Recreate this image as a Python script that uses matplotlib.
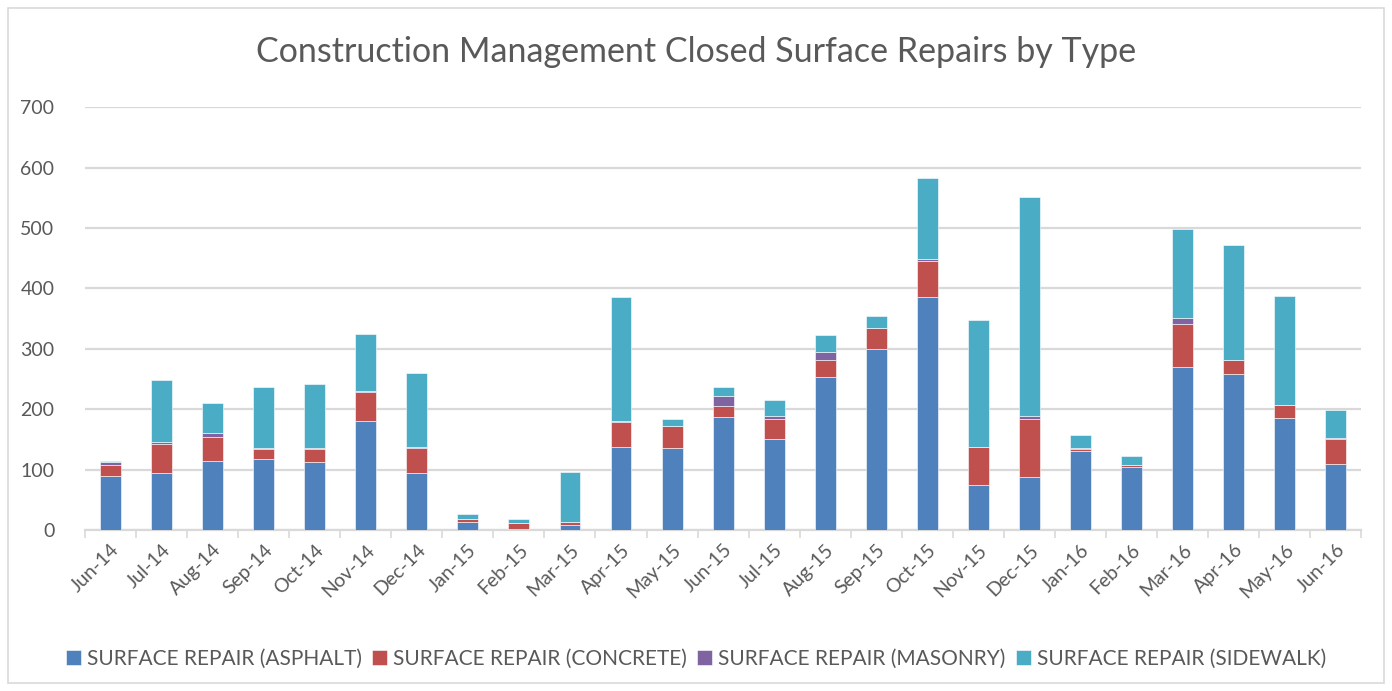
import numpy as np
import matplotlib.pyplot as plt
from matplotlib.patches import Rectangle

plt.rcParams['font.family'] = ['Lato', 'DejaVu Sans']

months = ['Jun-14', 'Jul-14', 'Aug-14', 'Sep-14', 'Oct-14', 'Nov-14', 'Dec-14',
          'Jan-15', 'Feb-15', 'Mar-15', 'Apr-15', 'May-15', 'Jun-15', 'Jul-15',
          'Aug-15', 'Sep-15', 'Oct-15', 'Nov-15', 'Dec-15', 'Jan-16', 'Feb-16',
          'Mar-16', 'Apr-16', 'May-16', 'Jun-16']

asphalt = [89, 94, 114, 117, 113, 180, 94, 14, 2, 8, 138, 136, 187, 151,
           254, 300, 386, 75, 87, 130, 104, 269, 258, 185, 109]
concrete = [18, 49, 40, 17, 21, 49, 42, 5, 10, 6, 41, 36, 19, 32,
            28, 34, 59, 62, 97, 4, 3, 72, 24, 22, 41]
masonry = [5, 3, 6, 2, 1, 1, 1, 0, 0, 0, 1, 0, 15, 6,
           13, 1, 4, 0, 4, 1, 0, 10, 0, 0, 3]
sidewalk = [2, 103, 50, 100, 106, 94, 123, 8, 6, 82, 205, 12, 16, 27,
            28, 20, 133, 211, 363, 22, 16, 148, 190, 180, 46]

series = [
    ('SURFACE REPAIR (ASPHALT)', asphalt, '#4F81BD'),
    ('SURFACE REPAIR (CONCRETE)', concrete, '#C0504D'),
    ('SURFACE REPAIR (MASONRY)', masonry, '#8064A2'),
    ('SURFACE REPAIR (SIDEWALK)', sidewalk, '#4BACC6'),
]

text_color = '#595959'
grid_color = '#D9D9D9'

fig = plt.figure(figsize=(13.92, 6.91), dpi=100)
ax = fig.add_axes([0.061, 0.233, 0.917, 0.612])

# outer chart border
fig.patches.append(Rectangle((0.006, 0.012), 0.988, 0.976, transform=fig.transFigure,
                             fill=False, edgecolor=grid_color, linewidth=1.2))

x = np.arange(len(months))
bottom = np.zeros(len(months))
for name, vals, color in series:
    vals = np.array(vals)
    ax.bar(x, vals, 0.41, bottom=bottom, color=color, label=name,
           edgecolor='white', linewidth=0.4, zorder=3)
    bottom += vals

ax.set_xlim(-0.5, len(months) - 0.5)
ax.set_ylim(0, 700)
ax.set_yticks(range(0, 701, 100))
ax.yaxis.grid(True, color=grid_color, linewidth=1.6, zorder=0)
ax.tick_params(axis='y', length=0, labelsize=14, labelcolor=text_color, pad=22)

ax.set_xticks(x)
ax.set_xticklabels(months, rotation=45, ha='right', rotation_mode='anchor',
                   fontsize=14, color=text_color)
ax.set_xticks(np.arange(-0.5, len(months), 1), minor=True)
ax.tick_params(axis='x', which='major', length=0, pad=8)
ax.tick_params(axis='x', which='minor', length=6, width=1.2, color=grid_color)

for s in ['top', 'right', 'left']:
    ax.spines[s].set_visible(False)
ax.spines['bottom'].set_color(grid_color)
ax.spines['bottom'].set_linewidth(1.6)

fig.text(0.5, 0.925, 'Construction Management Closed Surface Repairs by Type',
         ha='center', va='center', fontsize=24.5, color=text_color)

fig.legend(loc='center', bbox_to_anchor=(0.5, 0.047), ncol=4, frameon=False,
           fontsize=15, handlelength=0.7, handleheight=0.7, handletextpad=0.3,
           columnspacing=0.5, labelcolor=text_color)

fig.savefig('out.png', dpi=100)
